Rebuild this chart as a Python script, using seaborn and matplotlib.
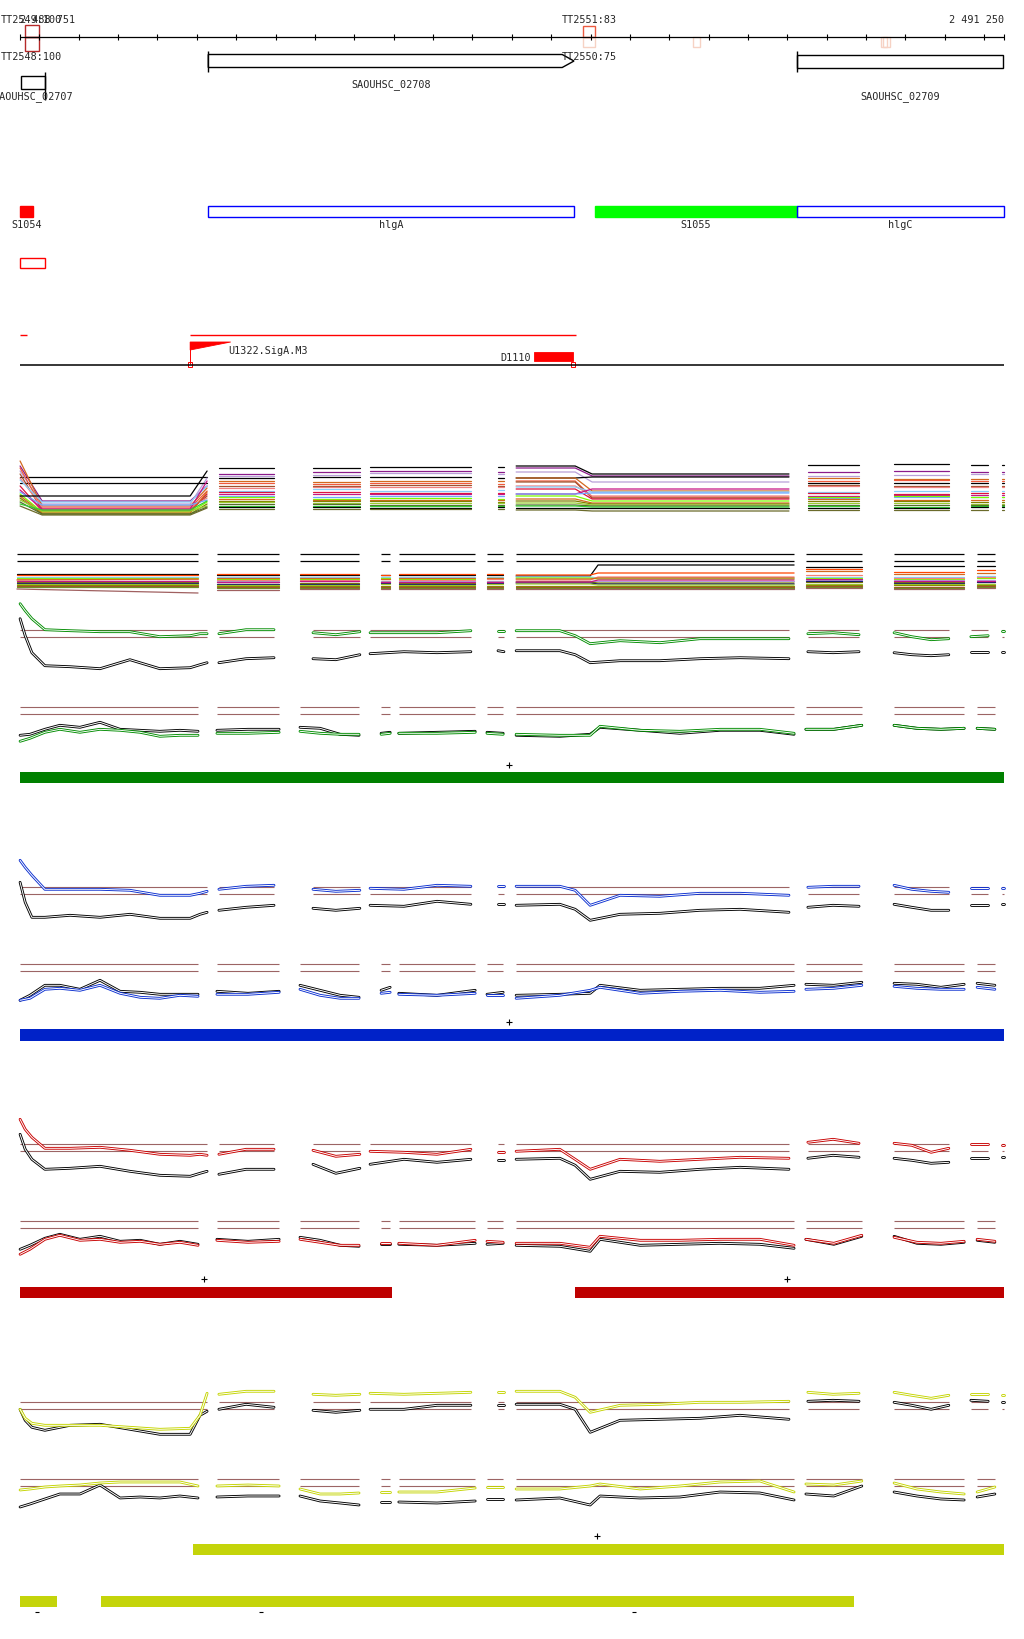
import numpy as np
import pandas as pd
import matplotlib
matplotlib.use("Agg")
import matplotlib.pyplot as plt
import matplotlib.patheffects as pe
from matplotlib.patches import Rectangle, Polygon
import seaborn as sns

##################################
# data
##################################
view_start, view_end = 2488751, 2491250
ruler_ticks = list(range(2488800, 2491201, 100))

# terminators: name, start, end, strand, colour
terminators = [
    ("TT2549:100", 2488764, 2488798, "+", "#b52a2a"),
    ("TT2548:100", 2488764, 2488798, "-", "#b52a2a"),
    ("TT2551:83", 2490182, 2490211, "+", "#ec5a40"),
    ("TT2550:75", 2490182, 2490211, "-", "#f6d2c4"),
    ("", 2490460, 2490477, "-", "#f6d2c4"),
    ("", 2490938, 2490953, "-", "#f6d2c4"),
    ("", 2490944, 2490960, "-", "#f6d2c4"),
]

gene_names = ["SAOUHSC_02707", "SAOUHSC_02708", "SAOUHSC_02709"]
gene_start = [2488753, 2489229, 2490725]
gene_end = [2488815, 2490158, 2491248]
gene_strand = ["-", "+", "+"]

feat_names = ["S1054", "hlgA", "S1055", "hlgC"]
feat_start = [2488752, 2489228, 2490211, 2490724]
feat_end = [2488785, 2490158, 2490724, 2491250]
feat_colour = ["#ff0000", "#0000ff", "#00ff00", "#0000ff"]
feat_filled = [True, False, True, False]

extra_box = (2488752, 2488814)
tss_lines = [(2488752, 2488768), (2489183, 2490164)]
tss_name, tss_pos = "U1322.SigA.M3", 2489183
term_name, term_start, term_end = "D1110", 2490056, 2490155

# probe-level profiles: knots (genome positions) per probe segment
upper_knots = [
    [2488751, 2488764, 2488781, 2488814, 2488878, 2488954, 2489030, 2489106, 2489183, 2489208, 2489226],
    [2489256, 2489325, 2489396],
    [2489495, 2489553, 2489614],
    [2489640, 2489726, 2489810, 2489896],
    [2489965, 2489980],
    [2490011, 2490122, 2490161, 2490199, 2490275, 2490376, 2490478, 2490580, 2490704],
    [2490752, 2490816, 2490882],
    [2490971, 2491016, 2491065, 2491110],
    [2491166, 2491210],
    [2491245, 2491250],
]
lower_knots = [
    [2488751, 2488776, 2488814, 2488852, 2488903, 2488954, 2489005, 2489056, 2489106, 2489157, 2489203],
    [2489251, 2489330, 2489409],
    [2489462, 2489513, 2489564, 2489612],
    [2489668, 2489691],
    [2489713, 2489810, 2489907],
    [2489937, 2489978],
    [2490011, 2490122, 2490199, 2490224, 2490326, 2490427, 2490529, 2490630, 2490717],
    [2490747, 2490818, 2490889],
    [2490971, 2491029, 2491090, 2491149],
    [2491182, 2491227],
]

green_up_ref = [11, -6, -23, -36, -37, -39, -30, -39, -38, -35, -33, -33, -29, -28, -29, -30, -25,
                -24, -22, -23, -22, -21, -22, -21, -21, -25, -33, -31, -31, -29, -28, -29,
                -22, -23, -22, -23, -25, -26, -25, -22, -22, -22, -22]
green_up_val = [26, 19, 11, 0, -1, -2, -2, -7, -6, -4, -4, -4, 0, 0, -3, -5, -2,
                -3, -3, -3, -1, -1, -1, -1, -1, -6, -14, -11, -13, -9, -9, -9,
                -4, -3, -5, -3, -7, -10, -9, -7, -6, -1, -1]
green_lo_ref = [-28, -27, -22, -18, -20, -15, -22, -23, -24, -23, -24, -23, -22, -22, -20, -21, -27, -28,
                -26, -25, -26, -25, -24, -25, -26, -28, -29, -27, -20, -23, -26, -23, -23, -27,
                -22, -22, -18, -18, -21, -22, -21, -21, -22]
green_lo_val = [-34, -31, -25, -22, -25, -22, -23, -25, -29, -28, -28, -26, -26, -25, -24, -26, -27, -27,
                -27, -26, -26, -26, -25, -26, -27, -27, -28, -28, -19, -23, -24, -22, -22, -26,
                -22, -22, -18, -18, -21, -22, -21, -21, -22]

blue_up_ref = [5, -15, -30, -30, -28, -30, -27, -31, -31, -27, -25, -23, -20, -18, -21, -23, -21,
               -18, -19, -14, -17, -17, -17, -18, -17, -22, -33, -27, -26, -23, -22, -25,
               -20, -18, -19, -17, -20, -23, -23, -18, -18, -17, -17]
blue_up_val = [27, 20, 12, -2, -2, -2, -3, -8, -8, -6, -4, -2, 1, 2, -2, -4, -3,
               -1, -2, 2, 1, 1, 1, 1, 1, -3, -18, -8, -9, -6, -6, -8,
               0, 1, 1, 2, -2, -4, -5, -1, -1, -1, -1]
blue_lo_ref = [-36, -31, -21, -21, -25, -16, -27, -28, -30, -30, -30, -27, -29, -27, -21, -26, -31, -33,
               -26, -23, -29, -31, -26, -30, -28, -31, -30, -29, -21, -26, -25, -24, -24, -21,
               -20, -21, -18, -19, -20, -23, -20, -19, -21]
blue_lo_val = [-36, -34, -25, -24, -26, -21, -29, -33, -34, -31, -32, -30, -30, -28, -25, -31, -34, -34,
               -29, -28, -30, -31, -29, -31, -31, -34, -31, -26, -23, -29, -27, -26, -28, -27,
               -25, -24, -21, -22, -24, -25, -25, -23, -25]

red_up_ref = [10, -5, -15, -25, -24, -22, -27, -31, -32, -29, -27, -30, -25, -25, -20, -29, -24,
              -20, -15, -18, -15, -16, -16, -15, -14, -21, -35, -27, -28, -25, -23, -25,
              -14, -11, -13, -14, -16, -19, -18, -14, -14, -13, -13]
red_up_val = [25, 15, 7, -4, -4, -3, -6, -10, -11, -10, -11, -10, -5, -5, -6, -12, -10,
              -7, -8, -10, -5, -8, -8, -7, -5, -15, -25, -15, -17, -15, -13, -14,
              2, 5, 1, 1, -1, -8, -4, 0, 0, -1, -1]
red_lo_ref = [-28, -24, -17, -13, -18, -15, -20, -19, -23, -20, -23, -18, -20, -18, -16, -19, -24, -25,
              -23, -23, -23, -24, -22, -23, -22, -24, -25, -30, -18, -24, -23, -22, -23, -27,
              -18, -23, -15, -15, -22, -23, -21, -19, -21]
red_lo_val = [-33, -28, -18, -14, -19, -18, -21, -20, -23, -21, -24, -19, -21, -20, -18, -21, -24, -24,
              -22, -22, -22, -24, -19, -20, -21, -22, -22, -26, -15, -19, -19, -18, -18, -24,
              -18, -22, -14, -16, -21, -22, -20, -18, -20]

yellow_up_ref = [-7, -18, -25, -28, -23, -22, -27, -32, -32, -13, -9, -7, -2, -5, -8, -10, -8,
                 -7, -7, -3, -3, -3, -3, -2, -2, -7, -30, -18, -17, -16, -13, -17,
                 1, 2, 1, 0, -3, -7, -3, 2, 1, 0, 0]
yellow_up_val = [-7, -16, -21, -23, -23, -23, -25, -27, -26, -13, 9, 8, 11, 11, 8, 7, 8,
                 9, 8, 9, 10, 10, 10, 11, 11, 5, -10, -3, -2, 0, 0, 1,
                 10, 8, 9, 10, 7, 4, 7, 8, 8, 7, 7]
yellow_lo_ref = [-28, -25, -20, -15, -15, -6, -19, -18, -19, -17, -19, -18, -17, -17, -17, -22, -24, -26,
                 -23, -23, -23, -24, -22, -20, -20, -21, -19, -26, -17, -19, -18, -13, -14, -21,
                 -15, -17, -7, -13, -17, -20, -21, -18, -15]
yellow_lo_val = [-11, -10, -8, -7, -6, -4, -3, -3, -3, -3, -7, -7, -6, -7, -10, -15, -15, -14,
                 -13, -13, -13, -13, -9, -8, -8, -10, -10, -7, -5, -10, -7, -3, -2, -13,
                 -5, -6, -2, -4, -10, -13, -15, -13, -8]

# multi-condition tracks (one line per condition)
multiA_knots = [
    [2488751, 2488807, 2489183, 2489226], [2489256, 2489396], [2489495, 2489614],
    [2489640, 2489896], [2489965, 2489980], [2490011, 2490161, 2490204, 2490704],
    [2490752, 2490882], [2490971, 2491110], [2491166, 2491210], [2491245, 2491250],
]
multiA_cols = [[0, 1, 1, 2], [3, 3], [4, 4], [5, 5], [6, 6], [7, 7, 8, 8], [9, 9], [10, 10], [11, 11], [12, 12]]
multiA_colours = ["black", "#8b1a8b", "#b8a0d8", "black", "#d2691e", "#f05a3c", "#a0522d", "#f08080",
                  "#87cefa", "#dc143c", "#c71585", "#6fa8ff", "#7cfc00", "#d2691e", "#808000",
                  "#9acd32", "#556b2f", "#32cd32", "black", "#6b6b2b"]
multiA_levels = [
    [39, 39, 39, 48, 48, 49, 49, 50, 42, 51, 52, 51, 51],
    [50, 15, 30, 42, 44, 45, 44, 48, 40, 44, 45, 44, 44],
    [45, 12, 38, 40, 41, 43, 42, 44, 34, 40, 41, 42, 42],
    [33, 33, 33, 38, 39, 39, 38, 38, 39, 33, 33, 33, 33],
    [55, 10, 28, 35, 34, 35, 35, 38, 25, 38, 37, 37, 37],
    [48, 8, 25, 33, 32, 33, 32, 35, 19, 35, 36, 35, 35],
    [42, 6, 20, 30, 30, 31, 30, 34, 18, 31, 30, 30, 30],
    [38, 9, 18, 28, 29, 29, 29, 30, 20, 30, 29, 29, 29],
    [36, 14, 30, 25, 27, 25, 26, 29, 24, 24, 25, 25, 25],
    [30, 5, 22, 24, 24, 23, 23, 27, 17, 23, 22, 23, 23],
    [26, 7, 35, 22, 22, 22, 22, 22, 27, 20, 21, 21, 21],
    [24, 11, 16, 20, 19, 20, 20, 22, 23, 18, 19, 19, 19],
    [22, 4, 14, 19, 17, 18, 17, 20, 15, 19, 20, 19, 19],
    [20, 3, 24, 17, 16, 16, 16, 17, 13, 17, 16, 16, 16],
    [18, 2, 12, 15, 15, 15, 14, 15, 12, 15, 15, 14, 14],
    [16, 5, 10, 14, 13, 13, 13, 13, 11, 13, 13, 12, 12],
    [14, 2, 9, 12, 12, 11, 11, 11, 10, 11, 11, 11, 11],
    [12, 6, 15, 10, 10, 10, 10, 10, 9, 10, 9, 10, 10],
    [20, 20, 45, 9, 9, 8, 9, 8, 8, 8, 8, 9, 9],
    [10, 1, 8, 7, 7, 7, 7, 6, 5, 6, 6, 6, 6],
]

multiB_knots = [
    [2488743, 2489203], [2489251, 2489409], [2489462, 2489612], [2489668, 2489691],
    [2489713, 2489907], [2489937, 2489978], [2490011, 2490199, 2490219, 2490717],
    [2490747, 2490889], [2490971, 2491149], [2491182, 2491227],
]
multiB_cols = [[0, 1], [2, 2], [3, 3], [4, 4], [5, 5], [6, 6], [7, 7, 8, 8], [9, 9], [10, 10], [11, 11]]
multiB_thresholds = [45, 37.7]
multiB_colours = ["black", "#ff4500", "#87cefa", "#7cfc00", "#fa8072", "#b39ddb", "#808000", "#d2691e",
                  "#1a1a6e", "#9acd32", "#8b8b00", "#a0522d", "#6b8e23", "#a06060", "#c71585"]
multiB_levels = [
    [25, 25, 24, 24, 24, 24, 24, 23, 34, 32, 33, 33],
    [24, 24, 25, 25, 24, 25, 25, 24, 26, 30, 27, 29],
    [22, 22, 22, 22, 22, 22, 22, 22, 21, 22, 22, 23],
    [21, 21, 20, 20, 21, 20, 21, 21, 20, 21, 20, 21],
    [20, 20, 19, 19, 20, 19, 20, 19, 22, 24, 21, 22],
    [18, 18, 18, 18, 18, 18, 18, 18, 18, 19, 19, 19],
    [17, 17, 17, 16, 17, 16, 17, 17, 16, 17, 17, 17],
    [19, 20, 21, 21, 20, 21, 21, 20, 21, 28, 25, 26],
    [16, 16, 15, 15, 16, 15, 16, 16, 15, 18, 16, 17],
    [15, 15, 14, 14, 15, 14, 15, 15, 14, 15, 15, 15],
    [14, 14, 13, 13, 13, 13, 13, 13, 13, 14, 14, 14],
    [13, 13, 12, 12, 12, 12, 12, 12, 12, 13, 12, 13],
    [12, 12, 11, 11, 11, 11, 11, 11, 11, 12, 11, 12],
    [10, 6, 9, 10, 10, 10, 10, 10, 10, 11, 10, 11],
    [18, 18, 17, 18, 17, 17, 17, 17, 19, 20, 18, 18],
]

green_bar = [(2488751, 2491250)]
blue_bar = [(2488751, 2491250)]
red_bar = [(2488751, 2489696), (2490161, 2491250)]
yellow_bar = [(2489191, 2491250)]
yellow_bar2 = [(2488752, 2488845), (2488957, 2490868)]
yellow_marks = [2488795, 2489364, 2490310]
plus_green, plus_blue, plus_red, plus_yellow = [2489994], [2489994], [2489219, 2490700], [2490216]

##################################
# layout / style
##################################
W, H = 1024, 1640
XLIM = (2488700, 2491301)
BROWN = "#9c6464"
FS = 7.3

sns.set_theme(style="white")
plt.rcParams["font.family"] = ["DejaVu Sans Mono", "DejaVu Sans"]

fig = plt.figure(figsize=(W / 100, H / 100), dpi=100)
ax = fig.add_axes([0, 0, 1, 1])
ax.set_xlim(*XLIM)
ax.set_ylim(H, 0)
ax.axis("off")


def panel_axes(top_px, vmax, vmin):
    h = vmax - vmin
    pax = fig.add_axes([0, 1 - (top_px + h) / H, 1, h / H])
    return pax


def finish(pax, vmax, vmin):
    pax.set_xlim(*XLIM)
    pax.set_ylim(vmin, vmax)
    pax.axis("off")


def profile_frame(knots, series):
    flat = [p for seg in knots for p in seg]
    seg_id = [i for i, seg in enumerate(knots) for _ in seg]
    rows = []
    for name, vals in series:
        if len(vals) != len(flat):
            raise ValueError(f"{name}: {len(vals)} values for {len(flat)} knots")
        for p, v, s in zip(flat, vals, seg_id):
            rows.append((p, v, name, s))
    return pd.DataFrame(rows, columns=["pos", "val", "line", "seg"])


def draw_profile(brown_row, knots, ref_vals, cond_vals, colour):
    vmax, vmin = 32, -46
    pax = panel_axes(brown_row - vmax, vmax, vmin)
    for seg in knots:
        pax.hlines([0, -7], seg[0], seg[-1], color=BROWN, lw=0.8)
    df = profile_frame(knots, [("ref", ref_vals), ("cond", cond_vals)])
    sns.lineplot(data=df, x="pos", y="val", hue="line", units="seg", estimator=None,
                 hue_order=["ref", "cond"], palette={"ref": "black", "cond": colour},
                 sort=False, legend=False, ax=pax, lw=0.8)
    # each probe pair is drawn as a thin double line
    for ln in pax.lines:
        c = ln.get_color()
        ln.set_path_effects([pe.Stroke(linewidth=2.0, foreground=c),
                             pe.Stroke(linewidth=0.7, foreground="white")])
    finish(pax, vmax, vmin)


def draw_multi(base_row, vmax, vmin, knots, colmap, levels, colours, thresholds=()):
    pax = panel_axes(base_row - vmax, vmax, vmin)
    for seg in knots:
        for t in thresholds:
            pax.hlines(t, seg[0], seg[-1], color="black", lw=0.9)
    series = []
    for i, lev in enumerate(levels):
        vals = [lev[c] for cols in colmap for c in cols]
        series.append((f"c{i:02d}", vals))
    df = profile_frame(knots, series)
    pal = {f"c{i:02d}": c for i, c in enumerate(colours)}
    sns.lineplot(data=df, x="pos", y="val", hue="line", units="seg", estimator=None,
                 palette=pal, sort=False, legend=False, ax=pax, lw=0.9)
    finish(pax, vmax, vmin)


# ---- ruler ----
RULER_Y = 38
ax.hlines(RULER_Y, view_start, view_end, color="black", lw=0.9)
ax.vlines(ruler_ticks + [view_start, view_end], RULER_Y - 3, RULER_Y + 3, color="black", lw=0.8)
ax.text(view_start, 20, "2 488 751", ha="left", va="center", fontsize=FS)
ax.text(view_end, 20, "2 491 250", ha="right", va="center", fontsize=FS)
for name, s, e, strand, col in terminators:
    if strand == "+":
        h = 12.5 if col == "#b52a2a" else 11
        ax.add_patch(Rectangle((s, RULER_Y - h), e - s, h, fill=False, ec=col, lw=1.0))
        if name:
            ax.text((s + e) / 2, 20, name, ha="center", va="center", fontsize=FS)
    else:
        h = 14 if col == "#b52a2a" else 10
        ax.add_patch(Rectangle((s, RULER_Y), e - s, h, fill=False, ec=col, lw=1.0))
        if name:
            ax.text((s + e) / 2, 57, name, ha="center", va="center", fontsize=FS)

# ---- genes ----
gene_rows = [76.5, 55.5, 55.5]
gene_label_y = [97, 85, 97]
for name, s, e, strand, y0, ly in zip(gene_names, gene_start, gene_end, gene_strand, gene_rows, gene_label_y):
    h = 13
    if strand == "+" and e < view_end - 10:
        tip = 30
        ax.add_patch(Polygon([(s, y0), (e - tip, y0), (e, y0 + h / 2), (e - tip, y0 + h), (s, y0 + h)],
                             closed=True, fill=False, ec="black", lw=1.0))
    else:
        ax.add_patch(Rectangle((s, y0), e - s, h, fill=False, ec="black", lw=1.0))
    bar_x = s if strand == "+" else e
    bar_lo, bar_hi = (y0 - 4, y0 + h + 4) if strand == "+" else (y0 - 4, y0 + h + 11)
    ax.vlines(bar_x, bar_lo, bar_hi, color="black", lw=1.0)
    ax.text((s + e) / 2, ly, name, ha="center", va="center", fontsize=FS)

# ---- annotated features ----
for name, s, e, col, filled in zip(feat_names, feat_start, feat_end, feat_colour, feat_filled):
    ax.add_patch(Rectangle((s, 207), e - s, 10.5, fill=filled, fc=col, ec=col, lw=1.0))
    ax.text((s + e) / 2, 224.5, name, ha="center", va="center", fontsize=FS)
ax.add_patch(Rectangle((extra_box[0], 258.5), extra_box[1] - extra_box[0], 10, fill=False, ec="#ff0000", lw=1.0))

# ---- TSS / terminator predictions ----
for s, e in tss_lines:
    ax.hlines(336, s, e, color="#ff0000", lw=1.0)
ax.add_patch(Polygon([(tss_pos, 343), (tss_pos + 103, 343), (tss_pos, 351)], closed=True, fc="#ff0000", ec="#ff0000", lw=0.6))
ax.vlines(tss_pos, 343, 365, color="#ff0000", lw=0.7)
ax.add_patch(Rectangle((tss_pos - 5, 362.5), 10, 5, fill=False, ec="#ff0000", lw=0.7))
ax.text(tss_pos + 96, 350.5, tss_name, ha="left", va="center", fontsize=FS)
ax.add_patch(Rectangle((term_start, 353), term_end - term_start, 8.7, fc="#ff0000", ec="#ff0000", lw=0.6))
ax.text(term_start - 7, 358, term_name, ha="right", va="center", fontsize=FS)
ax.add_patch(Rectangle((term_end - 5, 362.5), 10, 5, fill=False, ec="#ff0000", lw=0.7))
ax.hlines(365.7, view_start, view_end, color="black", lw=1.1)

# ---- condition tracks ----
draw_multi(517, 60, -3, multiA_knots, multiA_cols, multiA_levels, multiA_colours)
draw_multi(600, 50, 0, multiB_knots, multiB_cols, multiB_levels, multiB_colours, multiB_thresholds)

draw_profile(630.7, upper_knots, green_up_ref, green_up_val, "#008c00")
draw_profile(708.3, lower_knots, green_lo_ref, green_lo_val, "#008c00")
draw_profile(888.3, upper_knots, blue_up_ref, blue_up_val, "#0a2ed0")
draw_profile(965.3, lower_knots, blue_lo_ref, blue_lo_val, "#0a2ed0")
draw_profile(1145.3, upper_knots, red_up_ref, red_up_val, "#c80000")
draw_profile(1222.3, lower_knots, red_lo_ref, red_lo_val, "#c80000")
draw_profile(1403.3, upper_knots, yellow_up_ref, yellow_up_val, "#c4d400")
draw_profile(1480, lower_knots, yellow_lo_ref, yellow_lo_val, "#c4d400")

# ---- transcript bars ----
def bars(spans, y0, h, col):
    for s, e in spans:
        ax.add_patch(Rectangle((s, y0), e - s, h, fc=col, ec="none"))

bars(green_bar, 773, 10.5, "#008000")
bars(blue_bar, 1030, 11.5, "#0022c8")
bars(red_bar, 1287.7, 11.3, "#be0000")
bars(yellow_bar, 1545, 10.7, "#c4d40a")
bars(yellow_bar2, 1597, 10.7, "#c4d40a")
ax.hlines([1613.3] * len(yellow_marks), [m - 5 for m in yellow_marks], [m + 5 for m in yellow_marks], color="black", lw=0.8)

for xs, y in [(plus_green, 766), (plus_blue, 1023.3), (plus_red, 1280.3), (plus_yellow, 1537)]:
    ax.plot(xs, [y] * len(xs), ls="none", marker="+", ms=5, mew=0.8, color="black")

fig.savefig("out.png", dpi=100, facecolor="white")
